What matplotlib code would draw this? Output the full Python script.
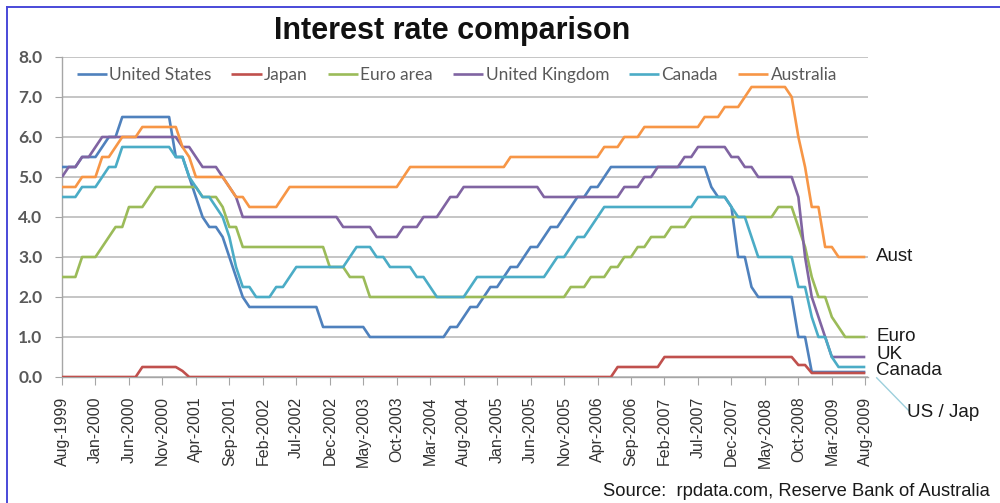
import matplotlib
matplotlib.use("Agg")
import matplotlib.pyplot as plt
from matplotlib.lines import Line2D

# Policy rates, monthly, Aug-1999 .. Aug-2009 (one line per calendar year)
us = [
    5.25, 5.25, 5.25, 5.5, 5.5,
    5.5, 5.75, 6.0, 6.0, 6.5, 6.5, 6.5, 6.5, 6.5, 6.5, 6.5, 6.5,
    5.5, 5.5, 5.0, 4.5, 4.0, 3.75, 3.75, 3.5, 3.0, 2.5, 2.0, 1.75,
    1.75, 1.75, 1.75, 1.75, 1.75, 1.75, 1.75, 1.75, 1.75, 1.75, 1.25, 1.25,
    1.25, 1.25, 1.25, 1.25, 1.25, 1.0, 1.0, 1.0, 1.0, 1.0, 1.0, 1.0,
    1.0, 1.0, 1.0, 1.0, 1.0, 1.25, 1.25, 1.5, 1.75, 1.75, 2.0, 2.25,
    2.25, 2.5, 2.75, 2.75, 3.0, 3.25, 3.25, 3.5, 3.75, 3.75, 4.0, 4.25,
    4.5, 4.5, 4.75, 4.75, 5.0, 5.25, 5.25, 5.25, 5.25, 5.25, 5.25, 5.25,
    5.25, 5.25, 5.25, 5.25, 5.25, 5.25, 5.25, 5.25, 4.75, 4.5, 4.5, 4.25,
    3.0, 3.0, 2.25, 2.0, 2.0, 2.0, 2.0, 2.0, 2.0, 1.0, 1.0, 0.125,
    0.125, 0.125, 0.125, 0.125, 0.125, 0.125, 0.125, 0.125,
]
japan = [
    0, 0, 0, 0, 0,
    0, 0, 0, 0, 0, 0, 0, 0.25, 0.25, 0.25, 0.25, 0.25,
    0.25, 0.15, 0, 0, 0, 0, 0, 0, 0, 0, 0, 0,
    0, 0, 0, 0, 0, 0, 0, 0, 0, 0, 0, 0,
    0, 0, 0, 0, 0, 0, 0, 0, 0, 0, 0, 0,
    0, 0, 0, 0, 0, 0, 0, 0, 0, 0, 0, 0,
    0, 0, 0, 0, 0, 0, 0, 0, 0, 0, 0, 0,
    0, 0, 0, 0, 0, 0, 0.25, 0.25, 0.25, 0.25, 0.25, 0.25,
    0.25, 0.5, 0.5, 0.5, 0.5, 0.5, 0.5, 0.5, 0.5, 0.5, 0.5, 0.5,
    0.5, 0.5, 0.5, 0.5, 0.5, 0.5, 0.5, 0.5, 0.5, 0.3, 0.3, 0.1,
    0.1, 0.1, 0.1, 0.1, 0.1, 0.1, 0.1, 0.1,
]
euro = [
    2.5, 2.5, 2.5, 3.0, 3.0,
    3.0, 3.25, 3.5, 3.75, 3.75, 4.25, 4.25, 4.25, 4.5, 4.75, 4.75, 4.75,
    4.75, 4.75, 4.75, 4.75, 4.5, 4.5, 4.5, 4.25, 3.75, 3.75, 3.25, 3.25,
    3.25, 3.25, 3.25, 3.25, 3.25, 3.25, 3.25, 3.25, 3.25, 3.25, 3.25, 2.75,
    2.75, 2.75, 2.5, 2.5, 2.5, 2.0, 2.0, 2.0, 2.0, 2.0, 2.0, 2.0,
    2.0, 2.0, 2.0, 2.0, 2.0, 2.0, 2.0, 2.0, 2.0, 2.0, 2.0, 2.0,
    2.0, 2.0, 2.0, 2.0, 2.0, 2.0, 2.0, 2.0, 2.0, 2.0, 2.0, 2.25,
    2.25, 2.25, 2.5, 2.5, 2.5, 2.75, 2.75, 3.0, 3.0, 3.25, 3.25, 3.5,
    3.5, 3.5, 3.75, 3.75, 3.75, 4.0, 4.0, 4.0, 4.0, 4.0, 4.0, 4.0,
    4.0, 4.0, 4.0, 4.0, 4.0, 4.0, 4.25, 4.25, 4.25, 3.75, 3.25, 2.5,
    2.0, 2.0, 1.5, 1.25, 1.0, 1.0, 1.0, 1.0,
]
uk = [
    5.0, 5.25, 5.25, 5.5, 5.5,
    5.75, 6.0, 6.0, 6.0, 6.0, 6.0, 6.0, 6.0, 6.0, 6.0, 6.0, 6.0,
    6.0, 5.75, 5.75, 5.5, 5.25, 5.25, 5.25, 5.0, 4.75, 4.5, 4.0, 4.0,
    4.0, 4.0, 4.0, 4.0, 4.0, 4.0, 4.0, 4.0, 4.0, 4.0, 4.0, 4.0,
    4.0, 3.75, 3.75, 3.75, 3.75, 3.75, 3.5, 3.5, 3.5, 3.5, 3.75, 3.75,
    3.75, 4.0, 4.0, 4.0, 4.25, 4.5, 4.5, 4.75, 4.75, 4.75, 4.75, 4.75,
    4.75, 4.75, 4.75, 4.75, 4.75, 4.75, 4.75, 4.5, 4.5, 4.5, 4.5, 4.5,
    4.5, 4.5, 4.5, 4.5, 4.5, 4.5, 4.5, 4.75, 4.75, 4.75, 5.0, 5.0,
    5.25, 5.25, 5.25, 5.25, 5.5, 5.5, 5.75, 5.75, 5.75, 5.75, 5.75, 5.5,
    5.5, 5.25, 5.25, 5.0, 5.0, 5.0, 5.0, 5.0, 5.0, 4.5, 3.0, 2.0,
    1.5, 1.0, 0.5, 0.5, 0.5, 0.5, 0.5, 0.5,
]
canada = [
    4.5, 4.5, 4.5, 4.75, 4.75,
    4.75, 5.0, 5.25, 5.25, 5.75, 5.75, 5.75, 5.75, 5.75, 5.75, 5.75, 5.75,
    5.5, 5.5, 5.0, 4.75, 4.5, 4.5, 4.25, 4.0, 3.5, 2.75, 2.25, 2.25,
    2.0, 2.0, 2.0, 2.25, 2.25, 2.5, 2.75, 2.75, 2.75, 2.75, 2.75, 2.75,
    2.75, 2.75, 3.0, 3.25, 3.25, 3.25, 3.0, 3.0, 2.75, 2.75, 2.75, 2.75,
    2.5, 2.5, 2.25, 2.0, 2.0, 2.0, 2.0, 2.0, 2.25, 2.5, 2.5, 2.5,
    2.5, 2.5, 2.5, 2.5, 2.5, 2.5, 2.5, 2.5, 2.75, 3.0, 3.0, 3.25,
    3.5, 3.5, 3.75, 4.0, 4.25, 4.25, 4.25, 4.25, 4.25, 4.25, 4.25, 4.25,
    4.25, 4.25, 4.25, 4.25, 4.25, 4.25, 4.5, 4.5, 4.5, 4.5, 4.5, 4.25,
    4.0, 4.0, 3.5, 3.0, 3.0, 3.0, 3.0, 3.0, 3.0, 2.25, 2.25, 1.5,
    1.0, 1.0, 0.5, 0.25, 0.25, 0.25, 0.25, 0.25,
]
australia = [
    4.75, 4.75, 4.75, 5.0, 5.0,
    5.0, 5.5, 5.5, 5.75, 6.0, 6.0, 6.0, 6.25, 6.25, 6.25, 6.25, 6.25,
    6.25, 5.75, 5.5, 5.0, 5.0, 5.0, 5.0, 5.0, 4.75, 4.5, 4.5, 4.25,
    4.25, 4.25, 4.25, 4.25, 4.5, 4.75, 4.75, 4.75, 4.75, 4.75, 4.75, 4.75,
    4.75, 4.75, 4.75, 4.75, 4.75, 4.75, 4.75, 4.75, 4.75, 4.75, 5.0, 5.25,
    5.25, 5.25, 5.25, 5.25, 5.25, 5.25, 5.25, 5.25, 5.25, 5.25, 5.25, 5.25,
    5.25, 5.25, 5.5, 5.5, 5.5, 5.5, 5.5, 5.5, 5.5, 5.5, 5.5, 5.5,
    5.5, 5.5, 5.5, 5.5, 5.75, 5.75, 5.75, 6.0, 6.0, 6.0, 6.25, 6.25,
    6.25, 6.25, 6.25, 6.25, 6.25, 6.25, 6.25, 6.5, 6.5, 6.5, 6.75, 6.75,
    6.75, 7.0, 7.25, 7.25, 7.25, 7.25, 7.25, 7.25, 7.0, 6.0, 5.25, 4.25,
    4.25, 3.25, 3.25, 3.0, 3.0, 3.0, 3.0, 3.0,
]

tick_labels = [
    "Aug-1999", "Jan-2000", "Jun-2000", "Nov-2000", "Apr-2001", "Sep-2001",
    "Feb-2002", "Jul-2002", "Dec-2002", "May-2003", "Oct-2003", "Mar-2004",
    "Aug-2004", "Jan-2005", "Jun-2005", "Nov-2005", "Apr-2006", "Sep-2006",
    "Feb-2007", "Jul-2007", "Dec-2007", "May-2008", "Oct-2008", "Mar-2009",
    "Aug-2009",
]

series = [
    ("United States", us, "#4F81BD"),
    ("Japan", japan, "#C0504D"),
    ("Euro area", euro, "#9BBB59"),
    ("United Kingdom", uk, "#8064A2"),
    ("Canada", canada, "#4BACC6"),
    ("Australia", australia, "#F79646"),
]

arial = "Liberation Sans"
calibri = "Lato"

fig = plt.figure(figsize=(10, 5.03), dpi=100)
ax = fig.add_axes([0.062, 0.2505, 0.806, 0.6362])

x = list(range(len(us)))
for name, vals, col in series:
    ax.plot(x, vals, color=col, lw=1.9, label=name,
            solid_joinstyle="round", solid_capstyle="butt", zorder=3)

ax.set_xlim(0, 120.4)
ax.set_ylim(0, 8)
ax.set_yticks(range(9))
ax.set_yticklabels([f"{v:.1f}" for v in range(9)],
                   fontfamily=calibri, fontweight="bold", fontsize=12.5,
                   color="#595959")
ax.set_xticks(range(0, 121, 5))
ax.set_xticklabels(tick_labels, rotation=90, fontfamily=arial,
                   fontsize=11.5, color="#333333")
ax.tick_params(axis="y", length=5, color="#a6a6a6", pad=9)
ax.tick_params(axis="x", length=6, color="#a6a6a6", pad=8)

ax.grid(axis="y", color="#c0c0c0", lw=1.3, zorder=0)
for side in ("top", "right"):
    ax.spines[side].set_visible(False)
for side in ("left", "bottom"):
    ax.spines[side].set_color("#a6a6a6")
    ax.spines[side].set_linewidth(1.0)

leg = ax.legend(ncol=6, loc="center left", bbox_to_anchor=(0.018, 0.944),
                frameon=False, handlelength=1.75, handletextpad=0.15,
                columnspacing=1.15, borderaxespad=0, borderpad=0,
                prop={"family": calibri, "size": 12.4})
for t in leg.get_texts():
    t.set_color("#595959")

# labels at the right-hand end of the lines
end_kw = dict(fontfamily=arial, fontsize=13.5, color="#1a1a1a",
              va="center", ha="left", clip_on=False)
ax.text(121.6, 3.0, "Aust", **end_kw)
ax.text(121.6, 1.0, "Euro", **end_kw)
ax.text(121.6, 0.57, "UK", **end_kw)
ax.text(121.6, 0.15, "Canada", **end_kw)
ax.text(126.2, -0.9, "US / Jap", **end_kw)
ax.plot([121.7, 126.6], [-0.02, -0.86], color="#9ccfdc", lw=1.0,
        clip_on=False)

fig.text(0.4525, 1 - 31 / 503, "Interest rate comparison",
         fontfamily=arial, fontweight="bold", fontsize=22,
         ha="center", va="center", color="#111111")
fig.text(0.990, 1 - 492 / 503, "Source:  rpdata.com, Reserve Bank of Australia",
         fontfamily=arial, fontsize=13.2, ha="right", va="center",
         color="#1a1a1a")

# thin blue frame on the top and left edges
fig.add_artist(Line2D([0.007, 1.0], [1 - 7 / 503, 1 - 7 / 503],
                      transform=fig.transFigure, color="#4a4ad8", lw=1.4))
fig.add_artist(Line2D([0.007, 0.007], [0.0, 1 - 7 / 503],
                      transform=fig.transFigure, color="#4a4ad8", lw=1.4))

fig.savefig("out.png", dpi=100)
